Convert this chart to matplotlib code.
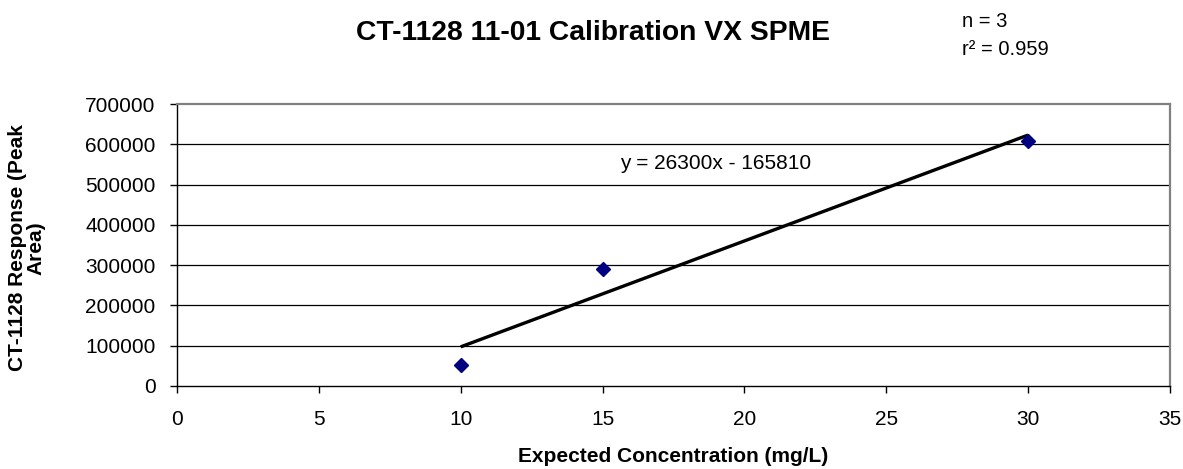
import numpy as np
import matplotlib
matplotlib.use("Agg")
import matplotlib.pyplot as plt

# ── Data ────────────────────────────────────────────────────
conc_mg_l = [10, 15, 30]
peak_area = [51500, 289600, 608000]
slope = 26300
intercept = -165810
n_points = 3
r_squared = 0.959

x_ticks = [0, 5, 10, 15, 20, 25, 30, 35]
y_ticks = [0, 100000, 200000, 300000, 400000, 500000, 600000, 700000]

plt.rcParams['font.family'] = ['Liberation Sans', 'DejaVu Sans']

fig = plt.figure(figsize=(11.83, 4.69), dpi=100, facecolor='white')
ax = fig.add_axes([0.1496, 0.177, 0.8394, 0.601])

# gridlines
for yv in y_ticks[1:-1]:
    ax.axhline(yv, color='black', lw=0.9, zorder=1)

# trendline over the data range
x_fit = np.array([min(conc_mg_l), max(conc_mg_l)])
ax.plot(x_fit, slope * x_fit + intercept, color='black', lw=2.4,
        solid_capstyle='butt', zorder=2)

ax.plot(conc_mg_l, peak_area, ls='none', marker='D', ms=7.5,
        color='#000080', zorder=3, clip_on=False)

ax.set_xlim(0, 35)
ax.set_ylim(0, 700000)
ax.set_xticks(x_ticks)
ax.set_yticks(y_ticks)
ax.set_yticklabels([str(v) for v in y_ticks])
ax.tick_params(direction='out', length=5, width=1, labelsize=15,
               colors='black')
ax.tick_params(axis='x', pad=12)
ax.tick_params(axis='y', pad=10.5)

for side in ['top', 'right']:
    ax.spines[side].set_color('#808080')
    ax.spines[side].set_linewidth(1.6)
for side in ['left', 'bottom']:
    ax.spines[side].set_color('black')
    ax.spines[side].set_linewidth(1.0)

ax.text(15.6, 553000, f'y = {slope}x - {abs(intercept)}', fontsize=15,
        ha='left', va='center')

fig.text(0.501, 0.93, 'CT-1128 11-01 Calibration VX SPME', fontsize=20.3,
         fontweight='bold', ha='center', va='center')
fig.text(0.813, 0.955, f'n = {n_points}', fontsize=14.5, ha='left', va='center')
fig.text(0.813, 0.895, f'r\u00b2 = {r_squared}', fontsize=14.5, ha='left',
         va='center')

ax.set_xlabel('Expected Concentration (mg/L)', fontsize=15,
              fontweight='bold', labelpad=13)
ax.set_ylabel('CT-1128 Response (Peak\nArea)', fontsize=15,
              fontweight='bold', linespacing=1.0)
ax.yaxis.set_label_coords(-0.132, 0.49)

fig.savefig('out.png', dpi=100, facecolor='white')
